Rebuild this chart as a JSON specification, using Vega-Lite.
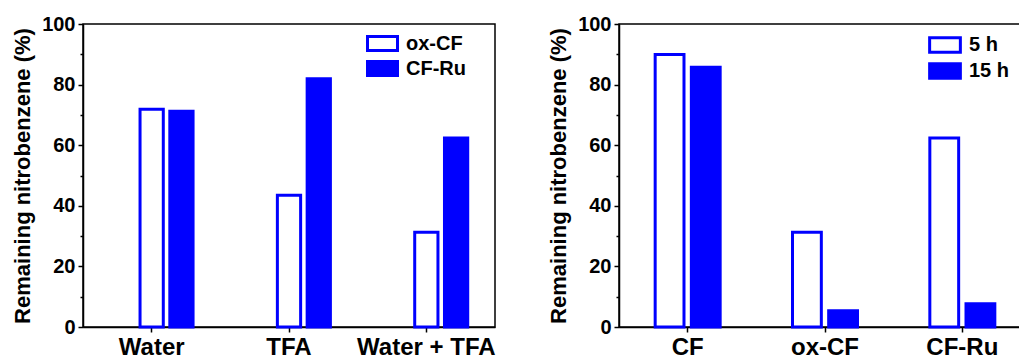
{
  "$schema": "https://vega.github.io/schema/vega-lite/v6.json",
  "padding": {"left": 10, "top": 13, "right": 0, "bottom": 0},
  "config": {
    "font": "Liberation Sans",
    "view": {"stroke": "#000000", "strokeWidth": 1.5},
    "axis": {"grid": false, "domainColor": "#000000", "domainWidth": 1.5, "tickColor": "#000000", "tickWidth": 1.5, "labelColor": "#000000", "titleColor": "#000000", "labelFontWeight": "bold", "titleFontWeight": "bold"},
    "legend": {"labelFont": "Liberation Sans", "labelFontWeight": "bold", "labelColor": "#000000"}
  },
  "resolve": {"scale": {"x": "independent", "y": "independent", "fill": "independent", "xOffset": "independent"}, "legend": {"fill": "independent"}},
  "spacing": 50,
  "hconcat": [
    {
      "width": 412,
      "height": 303,
      "data": {"values": [
        {"cond": "Water", "series": "ox-CF", "value": 71.9},
        {"cond": "Water", "series": "CF-Ru", "value": 71.2},
        {"cond": "TFA", "series": "ox-CF", "value": 43.5},
        {"cond": "TFA", "series": "CF-Ru", "value": 81.9},
        {"cond": "Water + TFA", "series": "ox-CF", "value": 31.3},
        {"cond": "Water + TFA", "series": "CF-Ru", "value": 62.4}
      ]},
      "mark": {"type": "bar", "stroke": "#0000FF", "strokeWidth": 3},
      "encoding": {
        "x": {"field": "cond", "type": "nominal", "sort": ["Water", "TFA", "Water + TFA"],
          "scale": {"paddingInner": 0, "paddingOuter": 0},
          "axis": {"title": null, "labelAngle": 0, "labelFontSize": 24, "labelPadding": 3, "tickSize": 5}},
        "xOffset": {"field": "series", "type": "nominal",
          "scale": {"domain": ["_", "ox-CF", "CF-Ru"], "paddingInner": 0.219, "paddingOuter": 0.916}},
        "y": {"field": "value", "type": "quantitative",
          "scale": {"domain": [0, 100], "nice": false},
          "axis": {"title": "Remaining nitrobenzene (%)", "values": [0, 10, 20, 30, 40, 50, 60, 70, 80, 90, 100],
            "labelExpr": "datum.value % 20 === 0 ? datum.label : ''",
            "tickSize": {"condition": {"test": "datum.value % 20 === 0", "value": 5}, "value": 3},
            "labelFontSize": 20, "labelPadding": 3, "titleFontSize": 22, "titlePadding": 7}},
        "fill": {"field": "series", "type": "nominal",
          "scale": {"domain": ["ox-CF", "CF-Ru"], "range": ["#FFFFFF", "#0000FF"]},
          "legend": {"title": null, "orient": "none", "legendX": 288, "legendY": 8, "padding": 0,
            "symbolType": "M-1.5,-0.7H1.5V0.7H-1.5Z", "symbolSize": 400,
            "symbolStrokeColor": "#0000FF", "symbolStrokeWidth": 3,
            "labelFontSize": 20, "labelOffset": 12, "rowPadding": -2}}
      }
    },
    {
      "width": 412,
      "height": 303,
      "data": {"values": [
        {"cond": "CF", "series": "5 h", "value": 89.9},
        {"cond": "CF", "series": "15 h", "value": 85.7},
        {"cond": "ox-CF", "series": "5 h", "value": 31.3},
        {"cond": "ox-CF", "series": "15 h", "value": 5.4},
        {"cond": "CF-Ru", "series": "5 h", "value": 62.4},
        {"cond": "CF-Ru", "series": "15 h", "value": 7.7}
      ]},
      "mark": {"type": "bar", "stroke": "#0000FF", "strokeWidth": 3},
      "encoding": {
        "x": {"field": "cond", "type": "nominal", "sort": ["CF", "ox-CF", "CF-Ru"],
          "scale": {"paddingInner": 0, "paddingOuter": 0},
          "axis": {"title": null, "labelAngle": 0, "labelFontSize": 24, "labelPadding": 3, "tickSize": 5}},
        "xOffset": {"field": "series", "type": "nominal",
          "scale": {"domain": ["5 h", "15 h"], "paddingInner": 0.203, "paddingOuter": 1.311}},
        "y": {"field": "value", "type": "quantitative",
          "scale": {"domain": [0, 100], "nice": false},
          "axis": {"title": "Remaining nitrobenzene (%)", "values": [0, 10, 20, 30, 40, 50, 60, 70, 80, 90, 100],
            "labelExpr": "datum.value % 20 === 0 ? datum.label : ''",
            "tickSize": {"condition": {"test": "datum.value % 20 === 0", "value": 5}, "value": 3},
            "labelFontSize": 20, "labelPadding": 3, "titleFontSize": 22, "titlePadding": 7}},
        "fill": {"field": "series", "type": "nominal",
          "scale": {"domain": ["5 h", "15 h"], "range": ["#FFFFFF", "#0000FF"]},
          "legend": {"title": null, "orient": "none", "legendX": 314, "legendY": 9, "padding": 0,
            "symbolType": "M-1.5,-0.7H1.5V0.7H-1.5Z", "symbolSize": 420,
            "symbolStrokeColor": "#0000FF", "symbolStrokeWidth": 3,
            "labelFontSize": 20, "labelOffset": 12, "rowPadding": -2}}
      }
    }
  ]
}
